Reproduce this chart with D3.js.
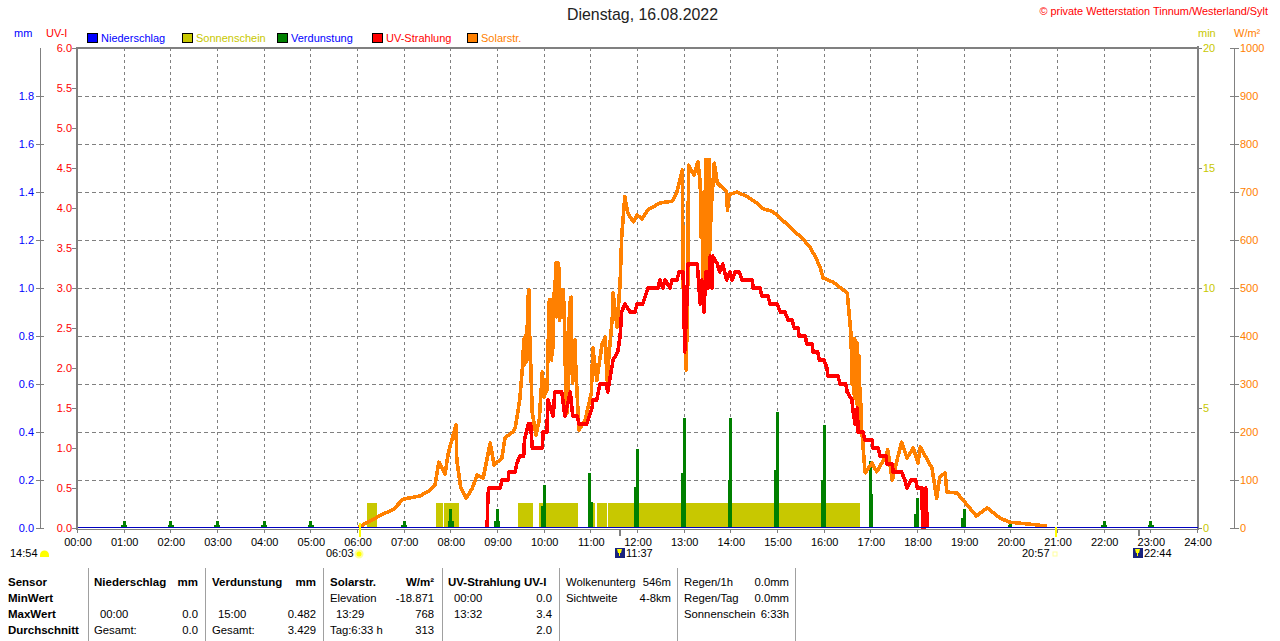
<!DOCTYPE html>
<html><head><meta charset="utf-8">
<script src="https://cdn.jsdelivr.net/npm/d3@7/dist/d3.min.js"></script>
<style>
html,body{margin:0;padding:0;background:#fff;overflow:hidden}
svg{display:block}
text{font-family:"Liberation Sans",Arial,sans-serif;font-size:11px}
</style></head><body>
<script>
// ---- data (minutes since midnight and values)
const solarTimes=[361,392,405,418,440,453,459,464,472,476,486,487,492,499,507,513,521,530,535,545,549,559,562,568,572,573,574,575,576,577,578,579,580,581,582,584,589,593,597,599,603,606,607,608,609,610,611,612,613,614,615,616,617,618,619,621,622,623,624,626,627,629,631,632,633,634,635,636,639,640,644,652,660,662,667,674,678,680,687,688,693,697,699,703,707,714,719,725,733,748,764,770,777,778,782,784,785,792,797,800,801,803,804,805,806,807,808,809,810,811,812,813,814,815,818,822,834,835,837,847,861,873,881,892,899,919,931,941,948,954,958,971,984,989,993,994,995,996,997,998,999,1000,1001,1002,1003,1004,1005,1006,1007,1008,1012,1021,1027,1038,1041,1047,1054,1059,1066,1074,1080,1083,1092,1098,1104,1108,1115,1117,1130,1138,1155,1169,1176,1185,1198,1224,1246];
const solarValues=[2,29,38,60,67,79,90,137,112,156,215,142,85,62,83,110,104,177,131,146,188,200,208,267,346,392,340,400,345,419,350,490,496,371,344,240,194,225,325,273,288,475,371,475,350,475,375,490,440,552,440,552,440,552,433,450,496,440,496,400,288,240,371,470,350,481,340,302,392,335,204,225,281,375,308,385,398,308,440,490,419,510,606,690,656,638,652,644,663,677,681,700,746,510,329,510,756,735,763,719,606,640,481,700,500,767,500,558,767,520,767,579,700,683,760,719,700,662,694,700,690,677,665,660,652,621,604,585,565,544,521,512,496,490,419,400,300,395,280,395,270,390,260,385,250,360,225,290,210,198,115,135,117,148,163,100,148,179,146,167,135,169,142,125,62,106,115,75,73,58,25,42,33,21,12,8,4];
const uvTimes=[526,527,528,543,545,553,554,562,564,568,573,574,579,582,584,590,597,598,603,604,611,613,622,626,633,636,642,644,654,661,662,667,671,679,681,688,694,697,699,703,710,716,719,726,733,735,746,748,752,755,761,764,770,773,778,779,780,783,784,796,797,800,802,805,807,810,813,815,816,822,825,829,834,838,841,845,850,854,867,868,877,879,887,890,899,903,909,913,918,921,926,927,935,937,944,945,951,953,959,963,964,977,980,987,989,995,996,999,1002,1003,1009,1012,1021,1022,1029,1031,1039,1040,1047,1048,1059,1063,1066,1071,1077,1079,1085,1086,1088,1090,1092];
const uvValues=[0,0.38,0.5,0.5,0.6,0.6,0.7,0.7,0.8,0.9,0.9,1.1,1.3,1.3,1.0,1.0,1.0,1.2,1.2,1.6,1.4,1.7,1.7,1.4,1.7,1.4,1.4,1.3,1.3,1.5,1.6,1.6,1.8,1.8,1.7,2.1,2.2,2.4,2.7,2.8,2.7,2.7,2.8,2.8,3.0,3.0,3.0,3.1,3.0,3.1,3.0,3.1,3.1,3.2,3.2,2.85,2.2,2.85,3.3,3.3,3.2,2.8,3.1,2.7,3.2,3.0,3.4,3.0,3.4,3.3,3.2,3.3,3.1,3.2,3.1,3.2,3.2,3.1,3.1,3.0,3.0,2.9,2.9,2.8,2.8,2.7,2.7,2.6,2.6,2.5,2.5,2.4,2.4,2.3,2.3,2.2,2.2,2.1,2.1,2.0,1.9,1.9,1.8,1.8,1.7,1.6,1.5,1.3,1.5,1.2,1.2,1.1,1.1,1.0,1.0,0.9,0.9,0.8,0.8,0.7,0.7,0.6,0.5,0.6,0.6,0.5,0.5,0,0,0.5,0];
const evapTimes=[58,60,62,118,120,122,178,180,182,238,240,242,298,300,302,418,420,422,478,480,482,538,540,542,598,600,658,660,661,718,720,778,780,838,840,898,900,958,960,1020,1021,1078,1080,1138,1140,1198,1200,1318,1320,1322,1378,1380,1382];
const evapValues=[0.012,0.03,0.012,0.012,0.03,0.012,0.012,0.03,0.012,0.012,0.03,0.012,0.012,0.03,0.012,0.012,0.03,0.012,0.03,0.08,0.03,0.03,0.08,0.03,0.09,0.18,0.23,0.11,0.11,0.17,0.33,0.23,0.46,0.2,0.46,0.24,0.482,0.2,0.43,0.28,0.14,0.06,0.125,0.04,0.08,0.012,0.03,0.012,0.03,0.012,0.012,0.03,0.012];
const sunStart=[372,460,471,566,593,658,667,681];
const sunEnd=[384,469,490,585,643,665,680,1005];
const sunValue=[1.05,1.05,1.05,1.05,1.05,1.05,1.05,1.05];
const hourLabels=d3.range(0,25).map(h=>String(h).padStart(2,"0")+":00");
const mmTicks=[0,0.2,0.4,0.6,0.8,1.0,1.2,1.4,1.6,1.8];
const uvTicks=[0,0.5,1,1.5,2,2.5,3,3.5,4,4.5,5,5.5,6];
const minTicks=[0,5,10,15,20];
const wTicks=d3.range(0,1001,100);
const legendNames=["Niederschlag","Sonnenschein","Verdunstung","UV-Strahlung","Solarstr."];
const legendColors=["#0000ff","#c8c800","#008000","#ff0000","#ff8000"];
const legendText=["#0000ff","#c8c800","#0000ff","#ff0000","#ff8000"];
const tableLeft=[
 [8,["Sensor","MinWert","MaxWert","Durchschnitt"],true],
 [94,["Niederschlag","","",""],true],[100,["","","00:00",""],false],[94,["","","","Gesamt:"],false],
 [212,["Verdunstung","","",""],true],[218,["","","15:00",""],false],[212,["","","","Gesamt:"],false],
 [330,["Solarstr.","","",""],true],[330,["","Elevation","","Tag:6:33 h"],false],[336,["","","13:29",""],false],
 [448,["UV-Strahlung UV-I","","",""],true],[454,["","00:00","13:32",""],false],
 [566,["Wolkenunterg","Sichtweite","",""],false],
 [684,["Regen/1h","Regen/Tag","Sonnenschein",""],false]];
const tableRight=[
 [198,["mm","","",""],true],[198,["","","0.0","0.0"],false],
 [316,["mm","","",""],true],[316,["","","0.482","3.429"],false],
 [434,["W/m²","","",""],true],[434,["","-18.871","768","313"],false],
 [552,["","0.0","3.4","2.0"],false],
 [671,["546m","4-8km","",""],false],
 [789,["0.0mm","0.0mm","6:33h",""],false]];
const tableSeps=[88,205,323,442,559,677,795];
const sunEvents=[["14:54",894],["06:03",363],["11:37",697],["20:57",1257],["22:44",1364]];

// ---- layout
const W=1280,H=641,L=78,R=1198,T=48,B=528;
const gray="#808080";
const svg=d3.select("body").append("svg").attr("width",W).attr("height",H);
const x=d3.scaleLinear().domain([0,1440]).range([L,R]);
const xg=d3.scaleLinear().domain([0,1440]).range([L-.6,R-.6]);
const yUV=d3.scaleLinear().domain([0,6]).range([B,T]);
const yMM=d3.scaleLinear().domain([0,2]).range([B,T]);
const yMin=d3.scaleLinear().domain([0,20]).range([B,T]);
const yW=d3.scaleLinear().domain([0,1000]).range([B,T]);
const line=(sx,sy)=>d3.line().x(d=>sx(d[0])).y(d=>sy(d[1]));
const hlp=(p,x1,y1,x2,y2,c,w,da)=>{const l=p.append("line").attr("x1",x1).attr("y1",y1).attr("x2",x2).attr("y2",y2)
  .attr("stroke",c).attr("stroke-width",w).attr("shape-rendering","crispEdges"); if(da)l.attr("stroke-dasharray",da); return l;};
const txt=(s,xx,yy,c,anchor,opts={})=>{const t=svg.append("text").attr("x",xx).attr("y",yy).attr("fill",c).attr("text-anchor",anchor||"start").text(s);
  if(opts.size)t.style("font-size",opts.size+"px"); if(opts.bold)t.style("font-weight","bold"); return t;};

// grid
const grid=svg.append("g");
d3.range(1,24).forEach(h=>hlp(grid,Math.floor(xg(h*60))+.5,T,Math.floor(xg(h*60))+.5,B,gray,1,"3,3"));
wTicks.slice(1,-1).forEach(v=>hlp(grid,L,Math.round(yW(v))+.5,R,Math.round(yW(v))+.5,gray,1,"4,3"));

// sunshine bars
svg.append("g").selectAll("rect").data(sunStart).join("rect")
 .attr("x",d=>x(d)).attr("width",(d,i)=>x(sunEnd[i])-x(d))
 .attr("y",(d,i)=>yMin(sunValue[i])).attr("height",(d,i)=>B-yMin(sunValue[i]))
 .attr("fill","#c8c800").attr("shape-rendering","crispEdges");

// evaporation
svg.append("g").selectAll("rect").data(evapTimes).join("rect")
 .attr("x",d=>Math.floor(xg(d))-1).attr("width",3)
 .attr("y",(d,i)=>yMM(evapValues[i])).attr("height",(d,i)=>B-yMM(evapValues[i]))
 .attr("fill","#008000").attr("shape-rendering","crispEdges");

// solar, UV
svg.append("path").datum(d3.zip(solarTimes,solarValues)).attr("d",line(x,yW))
 .attr("fill","none").attr("stroke","#ff8000").attr("stroke-width",3.6).attr("stroke-linejoin","round").attr("shape-rendering","crispEdges");
svg.append("path").datum(d3.zip(uvTimes,uvValues)).attr("d",line(x,yUV))
 .attr("fill","none").attr("stroke","#ff0000").attr("stroke-width",3.6).attr("stroke-linejoin","round").attr("shape-rendering","crispEdges");

// frame
const fr=svg.append("g");
hlp(fr,L-1,T-1,L-1,B+2,gray,2);
hlp(fr,L-2,T-.5,R,T-.5,gray,2);
hlp(fr,R-.5,T-2,R-.5,B+2,gray,2);
hlp(fr,L-2,B+1.5,R,B+1.5,gray,1);
hlp(fr,L,B-.5,R,B-.5,"#0000c0",1);

// x ticks + labels
hourLabels.forEach((s,i)=>{const xx=xg(i*60);
  hlp(fr,Math.floor(xx)+.5,B+1,Math.floor(xx)+.5,B+5,gray,1);
  txt(s,x(i*60),546,"#000","middle");});

// left axes
hlp(fr,40.5,T,40.5,B,gray,1);
mmTicks.forEach(v=>{hlp(fr,36,Math.round(yMM(v))+.5,44,Math.round(yMM(v))+.5,gray,1);
  txt(v.toFixed(1),34,yMM(v)+4,"#0000ff","end");});
uvTicks.forEach(v=>{hlp(fr,72,Math.round(yUV(v))+.5,L-2,Math.round(yUV(v))+.5,gray,1);
  txt(v.toFixed(1),72,yUV(v)+4,"#ff0000","end");});
txt("mm",14,37,"#0000ff"); txt("UV-I",46,37,"#ff0000");

// right axes
minTicks.forEach(v=>{hlp(fr,R,Math.round(yMin(v))+.5,R+4,Math.round(yMin(v))+.5,gray,1);
  txt(String(v),R+5,yMin(v)+4,"#c8c800");});
hlp(fr,1234.5,T,1234.5,B,gray,1.5);
wTicks.forEach(v=>{hlp(fr,1230,Math.round(yW(v))+.5,1239,Math.round(yW(v))+.5,gray,1);
  txt(String(v),1240,yW(v)+4,"#ff8000");});
txt("min",1198,37,"#c8c800"); txt("W/m²",1234,37,"#ff8000");

// titles
txt("Dienstag, 16.08.2022",642.5,20,"#222","middle",{size:15.9});
txt("© private Wetterstation Tinnum/Westerland/Sylt",1268,15,"#ff0000","end",{size:10.9});

// legend
legendNames.forEach((n,i)=>{const lx=87+i*95;
  svg.append("rect").attr("x",lx+.5).attr("y",33.5).attr("width",10).attr("height",9)
   .attr("fill",legendColors[i]).attr("stroke","#000").attr("shape-rendering","crispEdges");
  txt(n,lx+14,42,legendText[i]);});

// sun / moon events
const ev=(t,lx,ax)=>txt(t,lx,557,"#000",ax||"start");
ev(sunEvents[0][0],10);
svg.append("path").attr("d","M40,557v-2a4.5,4.5 0 0 1 9,0v2z").attr("fill","#ffff00");
ev(sunEvents[1][0],326);
hlp(fr,x(sunEvents[1][1]),B-5,x(sunEvents[1][1]),537,"#ffff00",2);
svg.append("circle").attr("cx",359).attr("cy",554).attr("r",3.5).attr("fill","#ffff00").attr("stroke","#ffffa0").attr("stroke-width",2);
ev(sunEvents[2][0],626);
hlp(fr,x(sunEvents[2][1]),B+2,x(sunEvents[2][1]),536,gray,2);
svg.append("rect").attr("x",615).attr("y",548).attr("width",10).attr("height",10).attr("fill","#1a237e");
svg.append("path").attr("d","M617,549h5l-1,4h-1v3h-1v-3h-1z").attr("fill","#ffff00");
ev(sunEvents[3][0],1022);
hlp(fr,x(sunEvents[3][1]),B-1,x(sunEvents[3][1]),537,"#ffff00",2);
svg.append("rect").attr("x",1053).attr("y",552).attr("width",4).attr("height",4).attr("fill","#fff").attr("stroke","#ffffa0");
ev(sunEvents[4][0],1144);
hlp(fr,x(sunEvents[4][1]),B+2,x(sunEvents[4][1]),536,gray,2);
svg.append("rect").attr("x",1133).attr("y",548).attr("width",10).attr("height",10).attr("fill","#1a237e");
svg.append("path").attr("d","M1135,549h5l-1,4h-1v3h-1v-3h-1z").attr("fill","#ffff00");

// table
const rowY=[586,602,618,634];
tableLeft.forEach(([cx,rows,b])=>rows.forEach((s,r)=>{if(s)txt(s,cx,rowY[r],"#000","start",{bold:b,size:b?11.5:11.3});}));
tableRight.forEach(([cx,rows,b])=>rows.forEach((s,r)=>{if(s)txt(s,cx,rowY[r],"#000","end",{bold:b,size:b?11.5:11.3});}));
tableSeps.forEach(sx=>hlp(fr,sx+.5,568,sx+.5,641,"#a0a0a0",1));
</script>
</body></html>
